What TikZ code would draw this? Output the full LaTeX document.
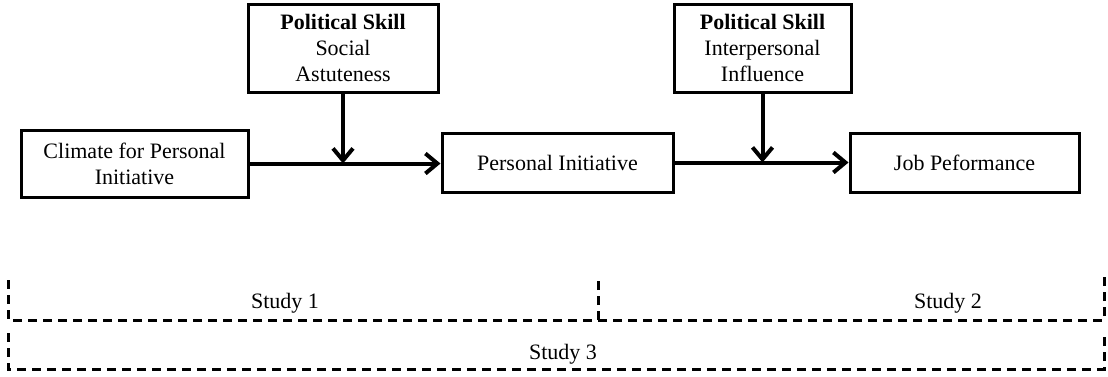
\documentclass[tikz,border=0pt]{standalone}
\usepackage{fontspec}
\setmainfont{Liberation Serif}
\usetikzlibrary{arrows.meta}

\begin{document}
\begin{tikzpicture}[x=0.5pt,y=-0.5pt]
        \useasboundingbox (0,0) rectangle (1108,376);

        \begin{scope}[every node/.style={draw, line width=1.5pt, align=center,
            inner sep=0pt, font=\fontsize{11}{13}\selectfont}]
          \node[minimum width=113.5pt, minimum height=33.5pt] (climate)   at (134.5,163.5) {Climate for Personal\\Initiative};
          \node[minimum width=95pt,  minimum height=44pt] (astute)    at (343,48)      {\textbf{Political Skill}\\Social\\Astuteness};
          \node[minimum width=115.5pt, minimum height=29.5pt] (initiative) at (557.5,162.5) {Personal Initiative};
          \node[minimum width=88.5pt,  minimum height=44pt] (influence) at (762.5,48)    {\textbf{Political Skill}\\Interpersonal\\Influence};
          \node[minimum width=114.5pt, minimum height=29.5pt] (perform)   at (964.5,162.5) {Job Peformance};
        \end{scope}

        \begin{scope}[every path/.style={line width=2pt, -{Straight Barb[length=6pt, width=10pt]}}]
          \coordinate (m1) at (astute.south |- climate.east);
          \coordinate (m2) at (influence.south |- initiative.east);
          \path[draw] (climate.east) -- (climate.east -| initiative.west);
          \path[draw] (astute.south) -- (m1);
          \path[draw] (initiative.east) -- (perform.west);
          \path[draw] (influence.south) -- (m2);
        \end{scope}

        \begin{scope}[line width=1.5pt, dash pattern=on 4.5pt off 3pt]
          \draw (8,280) -- (8,320) -- (598,320) -- (598,280);
          \draw (598,320) -- (1104,320) -- (1104,275);
          \draw (8,333) -- (8,369) -- (1104,369) -- (1104,333);
        \end{scope}

        \begin{scope}[every node/.style={font=\fontsize{11}{13}\selectfont}]
          \node (study1) at (285,303) {Study 1};
          \node (study2) at (948,303) {Study 2};
          \node (study3) at (563,354) {Study 3};
        \end{scope}

      \end{tikzpicture}
\end{document}
